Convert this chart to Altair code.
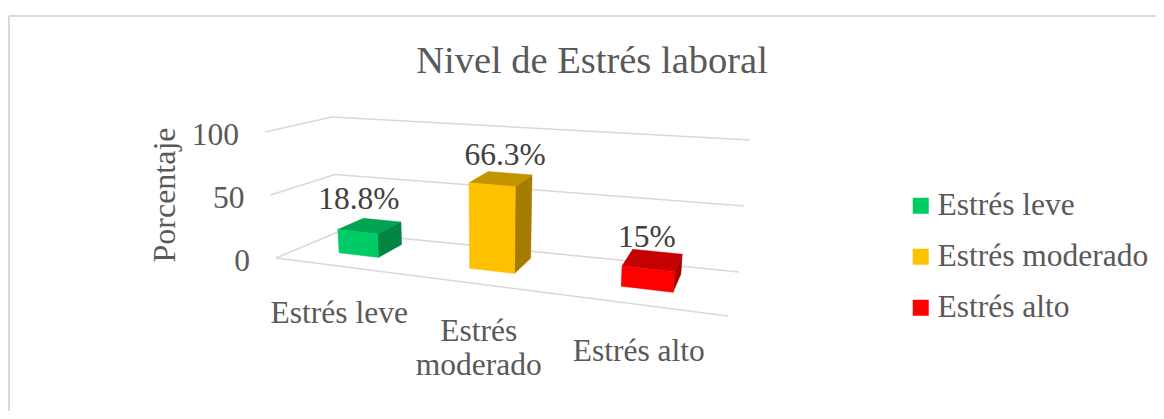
import altair as alt
import pandas as pd

CATEGORIES = ["Estrés leve", "Estrés moderado", "Estrés alto"]
AXIS_LABELS = ["Estrés leve", "Estrés\nmoderado", "Estrés alto"]
VALUES = [18.8, 66.3, 15.0]
VALUE_LABELS = ["18.8%", "66.3%", "15%"]
TICKS = [0, 50, 100]
FRONT = ["#00CC66", "#FFC000", "#FF0000"]
TOP = ["#00A352", "#C49300", "#C40000"]
SIDE = ["#008542", "#A67C00", "#A60000"]

SERIF = "Liberation Serif"
W, H = 1148, 403

# corners of the 3-D box in page pixels: (x, y) at value 0 and value 100
FL0, FL1 = (276, 258), (265, 132)
FR0, FR1 = (728, 316), (740, 171)
BL0, BL1 = (338, 232), (332, 117)
BR0, BR1 = (739, 272), (750, 140)
PERSP = 0.23
BAR_W = 0.105
BAR_SHIFT = [-0.004, -0.004, 0.0]
D_FRONT, D_BACK = 0.38, 0.82


def lerp(a, b, f):
    return (a[0] + (b[0] - a[0]) * f, a[1] + (b[1] - a[1]) * f)


def project(t, v, d):
    s = t / (1 + PERSP * (1 - t))
    f = v / 100
    front = lerp(lerp(FL0, FR0, s), lerp(FL1, FR1, s), f)
    back = lerp(lerp(BL0, BR0, s), lerp(BL1, BR1, s), f)
    return lerp(front, back, d)


X = alt.X("x:Q", scale=alt.Scale(domain=[8, 8 + W], nice=False, zero=False), axis=None)
Y = alt.Y("y:Q", scale=alt.Scale(domain=[8 + H, 8], nice=False, zero=False), axis=None)
X2, Y2 = alt.X2("x2:Q"), alt.Y2("y2:Q")

# frame and gridlines
segs = [
    {"x": 9, "y": 16, "x2": 8 + W, "y2": 16, "w": 2},
    {"x": 9, "y": 16, "x2": 9, "y2": 8 + H, "w": 2},
]
for tick in TICKS:
    a, b, c = project(0, tick, 0), project(0, tick, 1), project(1, tick, 1)
    segs.append({"x": a[0], "y": a[1], "x2": b[0], "y2": b[1], "w": 1.6})
    segs.append({"x": b[0], "y": b[1], "x2": c[0], "y2": c[1], "w": 1.6})
a, b = project(0, 0, 0), project(1, 0, 0)
segs.append({"x": a[0], "y": a[1], "x2": b[0], "y2": b[1], "w": 1.6})

layers = [
    alt.Chart(pd.DataFrame(segs))
    .mark_rule(color="#d9d9d9")
    .encode(x=X, y=Y, x2=X2, y2=Y2, strokeWidth=alt.StrokeWidth("w:Q", scale=None))
]

# bars
value_rows, square_rows, cat_rows = [], [], []
LABEL_DX = [-11, 4, -6]
LABEL_DY = [-18, -16, -11]
CAT_DY = [48, 48, 47]
for i, (cat, val) in enumerate(zip(CATEGORIES, VALUES)):
    tc = (i + 0.5) / len(CATEGORIES)
    l, r = tc + BAR_SHIFT[i] - BAR_W / 2, tc + BAR_SHIFT[i] + BAR_W / 2
    side = [(r, 0, D_FRONT), (r, 0, D_BACK), (r, val, D_BACK), (r, val, D_FRONT)]
    top = [(l, val, D_FRONT), (r, val, D_FRONT), (r, val, D_BACK), (l, val, D_BACK)]
    front = [(l, 0, D_FRONT), (r, 0, D_FRONT), (r, val, D_FRONT), (l, val, D_FRONT)]
    for quad, colr in ((side, SIDE[i]), (top, TOP[i]), (front, FRONT[i])):
        pts = [project(*p) for p in quad]
        pts.append(pts[0])
        df = pd.DataFrame(
            [{"x": p[0], "y": p[1], "i": k} for k, p in enumerate(pts)]
        )
        layers.append(
            alt.Chart(df)
            .mark_line(fill=colr, stroke=colr, strokeWidth=0.5)
            .encode(x=X, y=Y, order="i:Q")
        )
    cx = sum(project(*p)[0] for p in top) / 4
    back_y = min(project(*p)[1] for p in top)
    value_rows.append({"x": cx + LABEL_DX[i], "y": back_y + LABEL_DY[i], "t": VALUE_LABELS[i]})
    fc = project(tc, val / 2, D_FRONT)
    square_rows.append({"x": fc[0], "y": fc[1], "cat": cat})
    edge = project(tc, 0, 0)
    cat_rows.append({"x": edge[0], "y": edge[1] + CAT_DY[i], "t": AXIS_LABELS[i]})

# legend carried by small squares hidden behind the bar fronts
layers.insert(
    1,
    alt.Chart(pd.DataFrame(square_rows))
    .mark_square(size=1, opacity=1)
    .encode(
        x=X,
        y=Y,
        color=alt.Color(
            "cat:N",
            scale=alt.Scale(domain=CATEGORIES, range=FRONT),
            legend=alt.Legend(
                title=None,
                orient="none",
                legendX=897,
                legendY=182,
                symbolType="square",
                symbolSize=256,
                symbolStrokeWidth=0,
                symbolOpacity=1,
                labelFont=SERIF,
                labelFontSize=31.5,
                labelColor="#595959",
                labelLimit=400,
                labelOffset=1,
                rowPadding=18,
                padding=0,
            ),
        ),
    ),
)

layers.append(
    alt.Chart(pd.DataFrame(value_rows))
    .mark_text(font=SERIF, fontSize=31.5, color="#404040", baseline="middle")
    .encode(x=X, y=Y, text="t:N")
)
layers.append(
    alt.Chart(pd.DataFrame(cat_rows))
    .mark_text(font=SERIF, fontSize=31.5, color="#595959", lineBreak="\n", lineHeight=34)
    .encode(x=X, y=Y, text="t:N")
)
tick_rows = []
for tick in TICKS:
    p = project(0, tick, 0)
    tick_rows.append({"x": p[0] - 26, "y": p[1] + 4, "t": str(tick)})
layers.append(
    alt.Chart(pd.DataFrame(tick_rows))
    .mark_text(font=SERIF, fontSize=31.5, color="#595959", align="right", baseline="middle")
    .encode(x=X, y=Y, text="t:N")
)
layers.append(
    alt.Chart(pd.DataFrame([{"x": 165, "y": 195, "t": "Porcentaje"}]))
    .mark_text(font=SERIF, fontSize=32, color="#595959", angle=270, baseline="middle")
    .encode(x=X, y=Y, text="t:N")
)

chart = (
    alt.layer(*layers)
    .properties(
        width=W,
        height=H,
        padding=0,
        autosize=alt.AutoSizeParams(type="none"),
        title=alt.TitleParams(
            "Nivel de Estrés laboral",
            font=SERIF,
            fontSize=38.5,
            fontWeight="normal",
            color="#595959",
            dx=10,
            dy=77,
        ),
    )
    .configure_view(strokeWidth=0)
    .resolve_scale(color="shared")
)
chart.save("out.html", embed_options={"renderer": "svg", "actions": False})
